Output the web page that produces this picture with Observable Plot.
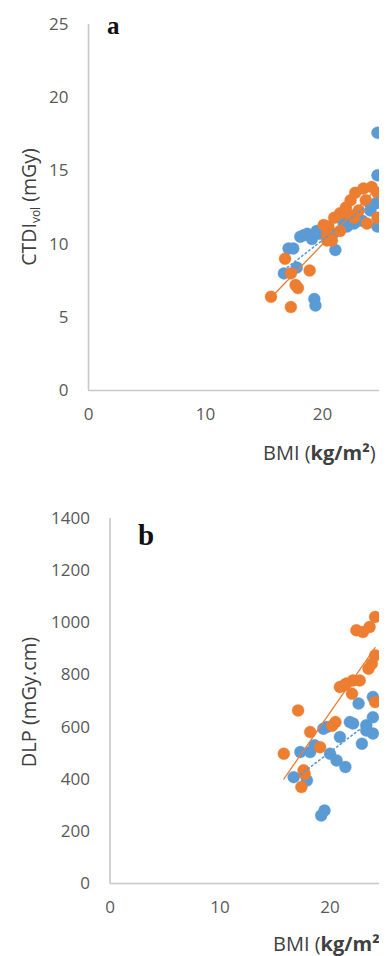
<!DOCTYPE html>
<html>
<head>
<meta charset="utf-8">
<script src="https://cdn.jsdelivr.net/npm/d3@7"></script>
<script src="https://cdn.jsdelivr.net/npm/@observablehq/plot@0.6"></script>
<style>
  html, body { margin: 0; padding: 0; background: #fff; }
  #wrap { position: relative; width: 379px; height: 956px; overflow: hidden; }
  #wrap > div, #wrap > svg { position: absolute; left: 0; }
</style>
</head>
<body>
<div id="wrap"></div>
<script>
// ---------- Panel a: CTDIvol vs BMI ----------
const bmiA_blue  = [24.7, 24.7, 24.6, 24.7, 24.1, 23.4, 23.0, 22.7, 22.1, 21.1, 20.9, 19.7, 19.5, 19.1, 18.7, 18.4, 18.1, 17.5, 17.1, 17.8, 16.7, 19.3, 19.4, 20.2, 21.8];
const ctdiA_blue = [17.6, 14.7, 12.8, 11.2, 12.3, 11.6, 11.6, 11.4, 11.2, 9.6, 10.7, 10.7, 10.9, 10.35, 10.7, 10.6, 10.5, 9.7, 9.7, 8.4, 8.0, 6.25, 5.8, 11.0, 11.5];
const bmiA_orange  = [15.6, 17.3, 17.7, 17.9, 16.8, 17.3, 18.9, 20.4, 20.8, 20.4, 20.5, 21.0, 21.5, 21.5, 22.0, 22.4, 22.8, 23.1, 22.7, 23.5, 23.7, 23.8, 24.2, 24.7, 24.7, 20.1, 22.3];
const ctdiA_orange = [6.4, 5.7, 7.2, 7.0, 9.0, 8.0, 8.2, 10.25, 10.25, 10.6, 11.2, 11.8, 12.1, 10.9, 12.5, 13.0, 13.5, 12.3, 11.8, 13.8, 13.0, 11.4, 13.9, 13.5, 11.8, 11.3, 12.0];

// ---------- Panel b: DLP vs BMI ----------
const bmiB_blue = [16.7, 17.9, 17.3, 18.2, 19.4, 20.0, 20.6, 21.4, 20.9, 21.8, 22.1, 22.6, 22.9, 23.3, 23.3, 23.9, 23.9, 23.9, 19.2, 19.5, 19.7, 18.6];
const dlpB_blue = [408, 395, 504, 504, 594, 498, 472, 447, 562, 619, 614, 690, 536, 587, 607, 638, 715, 575, 261, 280, 600, 530];
const bmiB_orange = [15.8, 17.1, 17.6, 17.4, 17.7, 18.2, 19.1, 20.5, 20.2, 20.9, 21.5, 21.3, 22.0, 22.1, 22.7, 22.4, 23.0, 23.6, 24.1, 23.5, 23.8, 24.1, 24.1];
const dlpB_orange = [498, 664, 434, 370, 420, 581, 523, 619, 605, 754, 767, 760, 728, 779, 779, 971, 965, 984, 1022, 824, 843, 875, 696];

const xTicks = [0, 10, 20];
const yTicksA = [0, 5, 10, 15, 20, 25];
const yTicksB = [0, 200, 400, 600, 800, 1000, 1200, 1400];

const BLUE = "#5b9bd5", ORANGE = "#ed7d31", AXIS = "#c8c8c8", TICK = "#595959", TITLE = "#404040";
const FONT = "Open Sans, Liberation Sans, sans-serif";

function toRows(xs, ys) { return xs.map((x, i) => ({x, y: ys[i]})); }

function panel({blue, orange, xMax, yDomain, yTicks, width, height, mt, mb, ml}) {
  return Plot.plot({
    width, height,
    marginTop: mt, marginBottom: mb, marginLeft: ml, marginRight: 0,
    x: {domain: [0, xMax]},
    y: {domain: yDomain},
    style: {fontFamily: FONT, fontSize: "17px", color: TICK, background: "white", overflow: "visible"},
    marks: [
      Plot.axisY({ticks: yTicks, tickSize: 0, tickPadding: 20, label: null, tickFormat: d => String(d)}),
      Plot.axisX({ticks: xTicks, tickSize: 0, tickPadding: 17, label: null}),
      Plot.ruleY([0], {stroke: AXIS, strokeWidth: 1.6}),
      Plot.ruleX([0], {stroke: AXIS, strokeWidth: 1.6}),
      Plot.dot(blue, {x: "x", y: "y", r: 6, fill: BLUE, stroke: BLUE, strokeOpacity: 0.35, strokeWidth: 1, clip: true}),
      Plot.dot(orange, {x: "x", y: "y", r: 6, fill: ORANGE, stroke: ORANGE, strokeOpacity: 0.35, strokeWidth: 1, clip: true}),
      Plot.linearRegressionY(blue, {x: "x", y: "y", ci: 0, stroke: BLUE, strokeWidth: 1.6, strokeDasharray: "1.5,3", clip: true}),
      Plot.linearRegressionY(orange, {x: "x", y: "y", ci: 0, stroke: ORANGE, strokeWidth: 1.3, clip: true})
    ]
  });
}

function addTitles(svg, {yTitle, ysize, yx, yy, xx, xy, letter, lx, ly, lsize}) {
  const s = d3.select(svg);
  // y-axis title
  const yt = s.append("text")
    .attr("transform", `translate(${yx},${yy}) rotate(-90)`)
    .attr("text-anchor", "middle")
    .attr("font-family", FONT).attr("font-size", ysize).attr("fill", TITLE);
  yTitle(yt);
  // x-axis title
  const xt = s.append("text")
    .attr("x", xx).attr("y", xy).attr("text-anchor", "start")
    .attr("font-family", FONT).attr("font-size", 20).attr("fill", TITLE);
  xt.append("tspan").text("BMI (");
  xt.append("tspan").attr("font-weight", "bold").text("kg/m²");
  xt.append("tspan").text(")");
  // panel letter
  s.append("text").attr("x", lx).attr("y", ly).attr("text-anchor", "start")
    .attr("font-family", "Liberation Serif, DejaVu Serif, serif")
    .attr("font-weight", "bold").attr("font-size", lsize).attr("fill", "#111")
    .text(letter);
}

const wrap = document.getElementById("wrap");

// Panel a
const a = panel({
  blue: toRows(bmiA_blue, ctdiA_blue), orange: toRows(bmiA_orange, ctdiA_orange),
  xMax: (379 - 88) / 11.7, yDomain: [0, 25], yTicks: yTicksA,
  width: 379, height: 470, mt: 24, mb: 80, ml: 88
});
a.style.top = "0px";
addTitles(a, {
  yTitle: t => {
    t.append("tspan").text("CTDI");
    t.append("tspan").attr("font-size", 12).attr("dy", 4).text("vol");
    t.append("tspan").attr("dy", -4).text(" (mGy)");
  },
  ysize: 19.5, yx: 36, yy: 207, xx: 263, xy: 460, letter: "a", lx: 107, ly: 34, lsize: 25
});
wrap.appendChild(a);

// Panel b
const b = panel({
  blue: toRows(bmiB_blue, dlpB_blue), orange: toRows(bmiB_orange, dlpB_orange),
  xMax: (379 - 109.5) / 11.0, yDomain: [0, 1400], yTicks: yTicksB,
  width: 379, height: 486, mt: 48, mb: 73, ml: 109.5
});
b.style.top = "470px";
addTitles(b, {
  yTitle: t => t.text("DLP (mGy.cm)"),
  ysize: 20, yx: 36, yy: 232, xx: 273, xy: 481, letter: "b", lx: 138, ly: 75, lsize: 29
});
wrap.appendChild(b);
</script>
</body>
</html>
